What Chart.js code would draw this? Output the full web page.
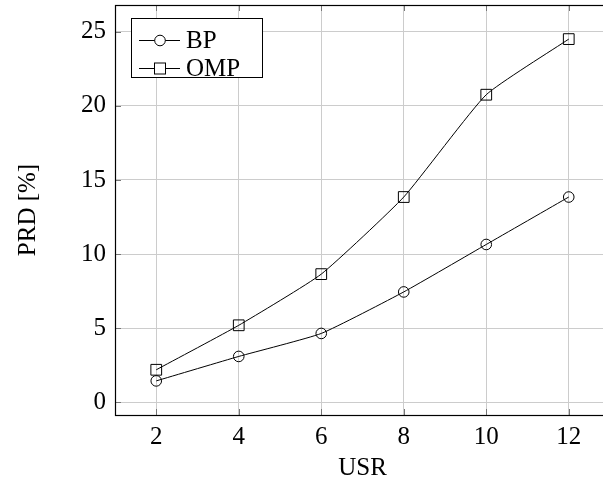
<!DOCTYPE html>
<html>
<head>
<meta charset="utf-8">
<script src="https://cdn.jsdelivr.net/npm/chart.js@4.4.1/dist/chart.umd.min.js"></script>
<style>
html,body{margin:0;padding:0;overflow:hidden;background:#fff;width:603px;height:487px;}
#wrap{width:612px;height:487px;}
canvas{display:block;}
</style>
</head>
<body>
<div id="wrap"><canvas id="c" width="612" height="487"></canvas></div>
<script>
const usr = [2, 4, 6, 8, 10, 12];
const bpValues = [1.45, 3.1, 4.65, 7.45, 10.65, 13.85];
const ompValues = [2.2, 5.2, 8.65, 13.85, 20.75, 24.5];
const xTickValues = [2, 4, 6, 8, 10, 12];
const yTickValues = [0, 5, 10, 15, 20, 25];
const seriesNames = ['BP', 'OMP'];
const xTitle = 'USR';
const yTitle = 'PRD [%]';

const FONT = '"Liberation Serif", "DejaVu Serif", serif';
const FS = 25;
const GRID = '#cccccc';
const TICKC = '#777777';

const framePlugin = {
  id: 'frame',
  afterDatasetsDraw(chart) {
    const {ctx, chartArea: a, scales} = chart;
    ctx.save();
    ctx.strokeStyle = TICKC;
    ctx.lineWidth = 1;
    const L = 6;
    xTickValues.forEach(v => {
      const x = Math.round(scales.x.getPixelForValue(v)) + 0.5;
      ctx.beginPath();
      ctx.moveTo(x, a.bottom); ctx.lineTo(x, a.bottom - L);
      ctx.moveTo(x, a.top); ctx.lineTo(x, a.top + L);
      ctx.stroke();
    });
    yTickValues.forEach(v => {
      const y = Math.round(scales.y.getPixelForValue(v)) + 0.5;
      ctx.beginPath();
      ctx.moveTo(a.left, y); ctx.lineTo(a.left + L, y);
      ctx.moveTo(a.right, y); ctx.lineTo(a.right - L, y);
      ctx.stroke();
    });
    ctx.strokeStyle = '#000';
    ctx.lineWidth = 1.2;
    ctx.strokeRect(Math.round(a.left) + 0.5, Math.round(a.top) + 0.5,
                   Math.round(a.right - a.left), Math.round(a.bottom - a.top));
    const bx = 131, by = 18, bw = 131, bh = 59;
    ctx.fillStyle = '#fff';
    ctx.fillRect(bx, by, bw, bh);
    ctx.strokeStyle = '#000';
    ctx.lineWidth = 1;
    ctx.strokeRect(bx + 0.5, by + 0.5, bw, bh);
    const rows = [40, 68];
    chart.data.datasets.forEach((ds, i) => {
      const y = rows[i] + 0.5;
      ctx.strokeStyle = '#000';
      ctx.lineWidth = 1;
      ctx.beginPath();
      ctx.moveTo(139, y); ctx.lineTo(180, y); ctx.stroke();
      ctx.fillStyle = '#fff';
      if (ds.pointStyle === 'circle') {
        ctx.beginPath(); ctx.arc(160, y, 5.3, 0, Math.PI * 2);
        ctx.fill(); ctx.stroke();
      } else {
        ctx.fillRect(154.5, y - 5.5, 11, 11);
        ctx.strokeRect(154.5, y - 5.5, 11, 11);
      }
      ctx.fillStyle = '#000';
      ctx.font = FS + 'px ' + FONT;
      ctx.textBaseline = 'middle';
      ctx.textAlign = 'left';
      ctx.fillText(ds.label, 186, rows[i] + 1);
    });
    ctx.restore();
  }
};

new Chart(document.getElementById('c'), {
  type: 'line',
  data: {
    datasets: [
      {
        label: seriesNames[0],
        data: usr.map((x, i) => ({x, y: bpValues[i]})),
        borderColor: '#000', borderWidth: 1,
        pointStyle: 'circle', pointRadius: 5.3,
        pointBorderColor: '#000', pointBackgroundColor: 'rgba(255,255,255,0)', pointBorderWidth: 1,
        tension: 0.15, fill: false
      },
      {
        label: seriesNames[1],
        data: usr.map((x, i) => ({x, y: ompValues[i]})),
        borderColor: '#000', borderWidth: 1,
        pointStyle: 'rect', pointRadius: 7.6,
        pointBorderColor: '#000', pointBackgroundColor: 'rgba(255,255,255,0)', pointBorderWidth: 1,
        tension: 0.15, fill: false
      }
    ]
  },
  options: {
    responsive: false,
    animation: false,
    devicePixelRatio: 1,
    layout: {autoPadding: false, padding: {top: 5, right: 2, left: 0, bottom: 0}},
    plugins: {legend: {display: false}, tooltip: {enabled: false}},
    scales: {
      x: {
        type: 'linear', min: 1, max: 13,
        afterBuildTicks: s => { s.ticks = xTickValues.map(v => ({value: v})); },
        afterFit: s => { s.height = 72; s.paddingLeft = 0; s.paddingRight = 0; },
        grid: {color: GRID, drawTicks: false, lineWidth: 1},
        border: {display: false},
        ticks: {color: '#000', font: {family: FONT, size: FS}, padding: 7, maxRotation: 0},
        title: {display: true, text: xTitle, color: '#000', font: {family: FONT, size: FS}, padding: {top: 0, bottom: 4}}
      },
      y: {
        type: 'linear', min: -0.85, max: 26.8,
        afterBuildTicks: s => { s.ticks = yTickValues.map(v => ({value: v})); },
        afterFit: s => { s.width = 115; s.paddingTop = 0; s.paddingBottom = 0; },
        grid: {color: GRID, drawTicks: false, lineWidth: 1},
        border: {display: false},
        ticks: {color: '#000', font: {family: FONT, size: FS}, padding: 9},
        title: {display: true, text: yTitle, color: '#000', font: {family: FONT, size: FS}, padding: {top: 13, bottom: 0}}
      }
    }
  },
  plugins: [framePlugin]
});
</script>
</body>
</html>
